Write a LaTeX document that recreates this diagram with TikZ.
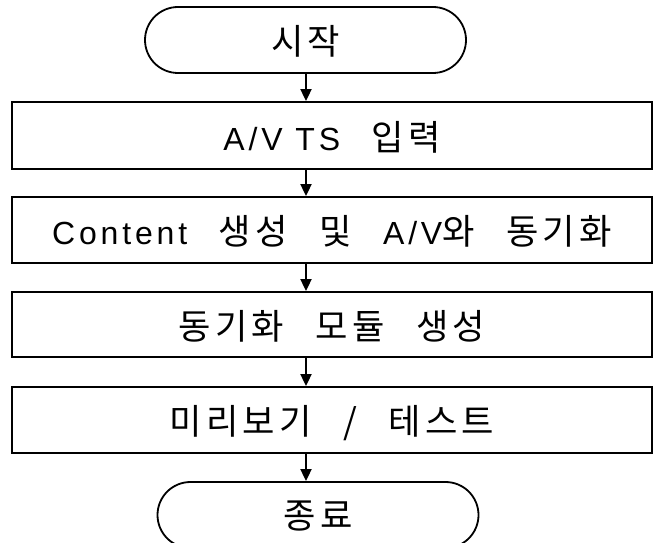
\documentclass[tikz,border=0pt]{standalone}
\usepackage{fontspec}
\setmainfont{Noto Sans CJK KR}[Scale=1.1,LetterSpace=12,WordSpace=2.6]
\newfontfamily\lat{Liberation Sans}[LetterSpace=12]
\usetikzlibrary{arrows.meta}
\begin{document}
\begin{tikzpicture}[x=1pt,y=-1pt,
  lw/.style={line width=1.8pt},
  txt/.style={font=\fontsize{32}{36}\selectfont,text depth=0pt,yshift=-2pt},
  stepbox/.style={draw,lw,rectangle,minimum width=640pt,inner sep=0pt,txt},
  term/.style={draw,lw,rectangle,rounded corners=33pt,minimum width=321pt,minimum height=66pt,inner sep=0pt,txt},
  arr/.style={lw,-{Triangle[length=12pt,width=11pt]}}]
\useasboundingbox (0,0) rectangle (657,543);
\coordinate (col) at (306,0);
\node[term] (start) at (305.5,38) {시작};
\node[stepbox,minimum height=67pt] (b1) at (332,133.5) {{\lat A/V TS} 입력};
\node[stepbox,minimum height=66pt] (b2) at (332,228) {{\lat Content} 생성 및 {\lat A/V}와 동기화};
\node[stepbox,minimum height=65pt] (b3) at (332,322.5) {동기화 모듈 생성};
\node[stepbox,minimum height=66pt] (b4) at (332,418) {미리보기 / 테스트};
\node[term] (end) at (318,513) {종료};
\draw[arr] (start.south -| col) -- (b1.north -| col);
\draw[arr] (b1.south -| col) -- (b2.north -| col);
\draw[arr] (b2.south -| col) -- (b3.north -| col);
\draw[arr] (b3.south -| col) -- (b4.north -| col);
\draw[arr] (b4.south -| col) -- (end.north -| col);
\end{tikzpicture}
\end{document}
